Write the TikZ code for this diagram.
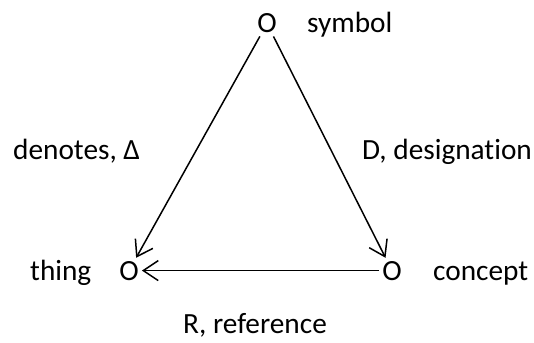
\documentclass[tikz,border=0pt]{standalone}
\usepackage{fontspec}
\setmainfont{Carlito}[Ligatures=NoCommon]
\usetikzlibrary{
  arrows.meta,
  positioning
}
\definecolor{triLine}{RGB}{0,0,0}
\tikzset{
  tripoint/.style={
    inner sep=3pt,
    anchor=base,
    font=\fontsize{29.3}{31}\selectfont
  },
  trilabel/.style={
    inner sep=0pt,
    anchor=base west,
    font=\fontsize{29.3}{31}\selectfont
  },
  triarrow/.style={
    -{Straight Barb[length=15pt,width=20pt]},
    line width=1.5pt,
    draw=triLine
  }
}

\begin{document}
\begin{tikzpicture}[x=1pt,y=-1pt]
  \useasboundingbox (0,0) rectangle (534,342);

  \node[tripoint] (sym) at (267,33) {O};
  \node[tripoint] (thg) at (129,280) {O};
  \node[tripoint] (cpt) at (392,280) {O};

  \node[trilabel] (symlab) at (307,33) {symbol};
  \node[trilabel] (thglab) at (30,280) {thing};
  \node[trilabel] (cptlab) at (433,280) {concept};
  \node[trilabel] (dlt) at (13,159) {denotes, Δ};
  \node[trilabel] (dsg) at (362,159) {D, designation};
  \node[trilabel] (ref) at (183,333) {R, reference};

  \draw[triarrow] (sym) -- (thg);
  \draw[triarrow] (sym) -- (cpt);
  \draw[triarrow] (cpt) -- (thg);
\end{tikzpicture}
\end{document}
